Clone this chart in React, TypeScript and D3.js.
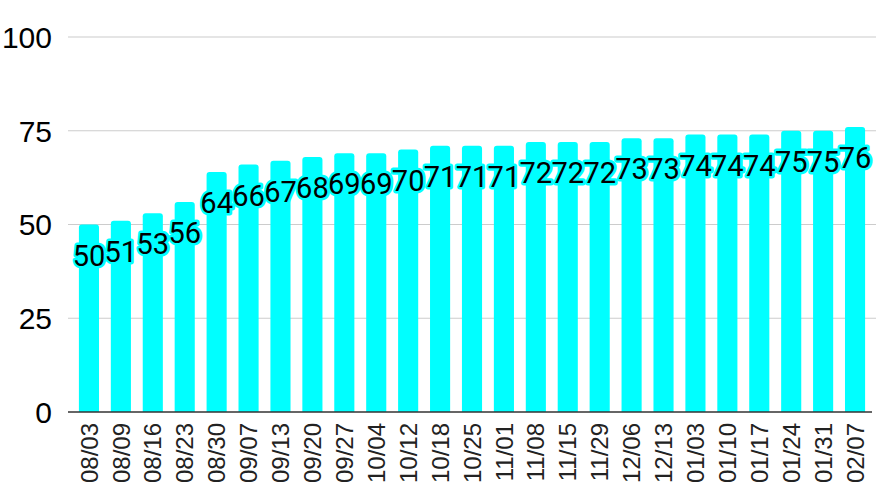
import React from 'react';
import * as d3 from 'd3';

const categories = ['08/03', '08/09', '08/16', '08/23', '08/30', '09/07', '09/13', '09/20', '09/27', '10/04', '10/12', '10/18', '10/25', '11/01', '11/08', '11/15', '11/29', '12/06', '12/13', '01/03', '01/10', '01/17', '01/24', '01/31', '02/07'];
const values = [50, 51, 53, 56, 64, 66, 67, 68, 69, 69, 70, 71, 71, 71, 72, 72, 72, 73, 73, 74, 74, 74, 75, 75, 76];
const yTicks = [0, 25, 50, 75, 100];

const W = 876;
const H = 487;
const CYAN = '#00ffff';

const App = () => {
  const x = d3.scaleBand<string>().domain(categories).range([73, 871]).paddingInner(0.37).paddingOuter(0.185);
  const y = d3.scaleLinear().domain([0, 100]).range([412, 37]);

  const bars = categories.map((c, i) => {
    const x0 = x(c) as number;
    const w = x.bandwidth();
    const top = y(values[i]);
    const bot = y(0);
    const r = 3;
    const p = d3.path();
    p.moveTo(x0, bot);
    p.lineTo(x0, top + r);
    p.quadraticCurveTo(x0, top, x0 + r, top);
    p.lineTo(x0 + w - r, top);
    p.quadraticCurveTo(x0 + w, top, x0 + w, top + r);
    p.lineTo(x0 + w, bot);
    p.closePath();
    return p.toString();
  });

  return (
    <div style={{ position: 'fixed', left: 0, top: 0 }}>
      <svg width={W} height={H} style={{ display: 'block', background: '#fff' }}>
        {yTicks.map((t) => (
          <g key={t}>
            {t !== 0 && <line x1={68} x2={876} y1={y(t)} y2={y(t)} stroke="#cccccc" strokeWidth={1.2} />}
            <text x={52} y={y(t)} dy="0.36em" textAnchor="end" fontFamily="'Liberation Sans', Arial, sans-serif" fontSize={30} fill="#000">
              {t}
            </text>
          </g>
        ))}
        {bars.map((d, i) => (
          <path key={categories[i]} d={d} fill={CYAN} />
        ))}
        <line x1={68} x2={872} y1={y(0)} y2={y(0)} stroke="#333" strokeWidth={1.5} />
        {categories.map((c) => {
          const cx = (x(c) as number) + x.bandwidth() / 2;
          return (
            <text
              key={c}
              transform={`translate(${cx},423) rotate(-90)`}
              textAnchor="end"
              dy="0.36em"
              fontFamily="'Liberation Sans', Arial, sans-serif"
              fontSize={24}
              fill="#222"
            >
              {c}
            </text>
          );
        })}
        {categories.map((c, i) => {
          const cx = (x(c) as number) + x.bandwidth() / 2;
          return (
            <text
              key={'l' + c}
              x={cx}
              y={y(values[i]) + 41}
              textAnchor="middle"
              fontFamily="Roboto, sans-serif"
              fontSize={29}
              fill="#000"
              stroke={CYAN}
              strokeWidth={5}
              strokeLinejoin="round"
              paintOrder="stroke"
            >
              {values[i]}
            </text>
          );
        })}
      </svg>
    </div>
  );
};

export default App;
